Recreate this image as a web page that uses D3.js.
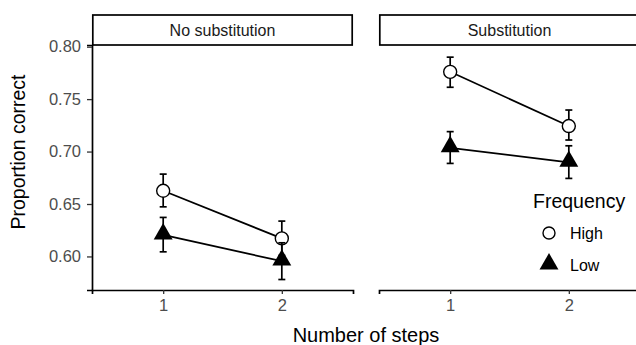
<!DOCTYPE html>
<html>
<head>
<meta charset="utf-8">
<script src="https://cdn.jsdelivr.net/npm/d3@7"></script>
<style>
  body { margin: 0; background: #fff; }
  svg text { font-family: "Liberation Sans", Arial, sans-serif; }
</style>
</head>
<body>
<div id="chart"></div>
<script>
var panels = ["No substitution", "Substitution"];
var steps = [1, 2];
var yTicks = [0.60, 0.65, 0.70, 0.75, 0.80];
var freqLevels = ["High", "Low"];

// mean, lower and upper error bar per step
var highNoSub = [0.6626, 0.6172], highNoSubLo = [0.6473, 0.6010], highNoSubHi = [0.6785, 0.6337];
var lowNoSub = [0.6205, 0.5955], lowNoSubLo = [0.6044, 0.5780], lowNoSubHi = [0.6372, 0.6130];
var highSub = [0.7760, 0.7243], highSubLo = [0.7613, 0.7110], highSubHi = [0.7900, 0.7396];
var lowSub = [0.7036, 0.6897], lowSubLo = [0.6887, 0.6744], lowSubHi = [0.7190, 0.7055];

var series = [
  { panel: 0, freq: "High", mean: highNoSub, lo: highNoSubLo, hi: highNoSubHi },
  { panel: 0, freq: "Low", mean: lowNoSub, lo: lowNoSubLo, hi: lowNoSubHi },
  { panel: 1, freq: "High", mean: highSub, lo: highSubLo, hi: highSubHi },
  { panel: 1, freq: "Low", mean: lowSub, lo: lowSubLo, hi: lowSubHi }
];

var width = 636, height = 345;
var svg = d3.select("#chart").append("svg")
  .attr("width", width)
  .attr("height", height);

var panelLeft = [92, 379], panelW = 261;
var plotTop = 45, plotBottom = 290;

var y = d3.scaleLinear().domain([0.568, 0.8016]).range([plotBottom, plotTop]);

var tri = d3.symbol().type(d3.symbolTriangle).size(155);

panels.forEach(function(name, p) {
  var x = d3.scaleLinear().domain([0.4, 2.6]).range([panelLeft[p], panelLeft[p] + panelW]);
  var g = svg.append("g");

  // strip
  g.append("rect")
    .attr("x", panelLeft[p] + 0.8).attr("y", 15)
    .attr("width", panelW - 1.6).attr("height", plotTop - 15)
    .attr("fill", "#fff").attr("stroke", "#000").attr("stroke-width", 1.7);
  g.append("text")
    .attr("x", panelLeft[p] + panelW / 2).attr("y", 36)
    .attr("text-anchor", "middle").attr("font-size", 16).attr("fill", "#1a1a1a")
    .text(name);

  // x axis
  var xa = g.append("g")
    .attr("transform", "translate(0," + plotBottom + ")")
    .call(d3.axisBottom(x).tickValues(steps).tickFormat(d3.format("d")).tickSizeOuter(0).tickSize(4).tickPadding(5));
  xa.select(".domain").attr("stroke", "#000").attr("stroke-width", 1.7);
  xa.selectAll(".tick line").attr("stroke", "#333").attr("stroke-width", 1.3);
  xa.selectAll(".tick text").attr("font-size", 16.5).attr("fill", "#4d4d4d").attr("font-family", null);

  if (p === 0) {
    var ya = g.append("g")
      .attr("transform", "translate(" + panelLeft[p] + ",0)")
      .call(d3.axisLeft(y).tickValues(yTicks).tickFormat(d3.format(".2f")).tickSizeOuter(0).tickSize(5).tickPadding(6));
    ya.select(".domain").attr("stroke", "#000").attr("stroke-width", 1.7);
    ya.selectAll(".tick line").attr("stroke", "#333").attr("stroke-width", 1.3);
    ya.selectAll(".tick text").attr("font-size", 16.5).attr("fill", "#4d4d4d").attr("font-family", null);
  }

  series.filter(function(s) { return s.panel === p; }).forEach(function(s) {
    var pts = steps.map(function(st, i) { return { x: st, m: s.mean[i], lo: s.lo[i], hi: s.hi[i] }; });

    g.append("path")
      .datum(pts)
      .attr("fill", "none").attr("stroke", "#000").attr("stroke-width", 1.7)
      .attr("d", d3.line().x(function(d) { return x(d.x); }).y(function(d) { return y(d.m); }));

    var eb = g.append("g").selectAll("g").data(pts).enter().append("g");
    eb.append("line")
      .attr("x1", function(d) { return x(d.x); }).attr("x2", function(d) { return x(d.x); })
      .attr("y1", function(d) { return y(d.lo); }).attr("y2", function(d) { return y(d.hi); })
      .attr("stroke", "#000").attr("stroke-width", 1.7);
    eb.append("line")
      .attr("x1", function(d) { return x(d.x) - 3.5; }).attr("x2", function(d) { return x(d.x) + 3.5; })
      .attr("y1", function(d) { return y(d.lo); }).attr("y2", function(d) { return y(d.lo); })
      .attr("stroke", "#000").attr("stroke-width", 1.7);
    eb.append("line")
      .attr("x1", function(d) { return x(d.x) - 3.5; }).attr("x2", function(d) { return x(d.x) + 3.5; })
      .attr("y1", function(d) { return y(d.hi); }).attr("y2", function(d) { return y(d.hi); })
      .attr("stroke", "#000").attr("stroke-width", 1.7);

    if (s.freq === "High") {
      g.append("g").selectAll("circle").data(pts).enter().append("circle")
        .attr("cx", function(d) { return x(d.x); })
        .attr("cy", function(d) { return y(d.m); })
        .attr("r", 6.5)
        .attr("fill", "#fff").attr("stroke", "#000").attr("stroke-width", 1.4);
    } else {
      g.append("g").selectAll("path").data(pts).enter().append("path")
        .attr("d", tri)
        .attr("transform", function(d) { return "translate(" + x(d.x) + "," + (y(d.m) - 1) + ")"; })
        .attr("fill", "#000");
    }
  });
});

// axis titles
svg.append("text")
  .attr("x", 366).attr("y", 342)
  .attr("text-anchor", "middle").attr("font-size", 20).attr("fill", "#000")
  .text("Number of steps");

svg.append("text")
  .attr("transform", "translate(25,152) rotate(-90)")
  .attr("text-anchor", "middle").attr("font-size", 19.5).attr("fill", "#000")
  .text("Proportion correct");

// legend
var lg = svg.append("g");
lg.append("text")
  .attr("x", 533).attr("y", 208)
  .attr("font-size", 19.5).attr("fill", "#000")
  .text("Frequency");
freqLevels.forEach(function(f, i) {
  var cy = 233 + i * 32;
  if (f === "High") {
    lg.append("circle").attr("cx", 549).attr("cy", cy).attr("r", 6)
      .attr("fill", "#fff").attr("stroke", "#000").attr("stroke-width", 1.4);
  } else {
    lg.append("path").attr("d", tri).attr("transform", "translate(549," + (cy - 1) + ")").attr("fill", "#000");
  }
  lg.append("text")
    .attr("x", 570).attr("y", cy + 5.5)
    .attr("font-size", 16).attr("fill", "#000")
    .text(f);
});
</script>
</body>
</html>
